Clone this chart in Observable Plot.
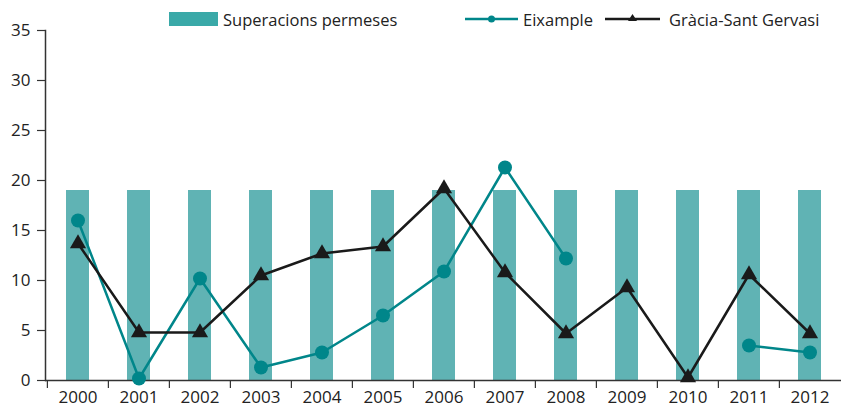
<!DOCTYPE html>
<html><head><meta charset="utf-8">
<script src="https://cdn.jsdelivr.net/npm/d3@7"></script>
<script src="https://cdn.jsdelivr.net/npm/@observablehq/plot@0.6"></script>
<style>
body{margin:0;background:#fff;}
#wrap{position:relative;width:845px;height:408px;font-family:"Open Sans",sans-serif;color:#333;overflow:hidden;}
#chart{position:absolute;left:0;top:0;}
.lg{position:absolute;top:8px;height:22px;display:flex;align-items:center;font-size:16.5px;color:#222;white-space:nowrap;}
.lg svg{display:block;margin-right:4px;}
</style></head><body>
<div id="wrap"><div id="chart"></div>
<div class="lg" style="left:169px"><svg width="50" height="16"><rect x="0" y="1" width="49" height="14" fill="#3aa9a8"/></svg><span>Superacions permeses</span></div>
<div class="lg" style="left:465px"><svg width="54" height="16"><line x1="0" x2="53" y1="8" y2="8" stroke="#00868a" stroke-width="2.5"/><circle cx="26.5" cy="8" r="3.5" fill="#00868a"/></svg><span>Eixample</span></div>
<div class="lg" style="left:605px"><svg width="60" height="16"><line x1="0" x2="55" y1="8" y2="8" stroke="#1a1a1a" stroke-width="2.5"/><path d="M27.5,3 L32,10 L23,10 Z" fill="#1a1a1a"/></svg><span>Gràcia-Sant Gervasi</span></div>
</div>
<script>
const years = ["2000","2001","2002","2003","2004","2005","2006","2007","2008","2009","2010","2011","2012"];
const permeses = [19,19,19,19,19,19,19,19,19,19,19,19,19];
const eixample = [16,0.2,10.2,1.3,2.8,6.5,10.9,21.3,12.2,null,null,3.5,2.8];
const gracia = [13.7,4.8,4.8,10.5,12.7,13.4,19.2,10.8,4.7,9.3,0.3,10.6,4.7];
const yTicks = [0,5,10,15,20,25,30,35];

const W = 845, H = 408, mL = 45, mR = 4, mT = 30, mB = 28;
const bw = (W - mL - mR) / years.length;

const rows = years.map((y, i) => ({year: y, permeses: permeses[i], eixample: eixample[i], gracia: gracia[i]}));

const chart = Plot.plot({
  width: W, height: H,
  marginLeft: mL, marginRight: mR, marginTop: mT, marginBottom: mB,
  style: {fontFamily: "Open Sans, sans-serif", fontSize: "17px", color: "#333", background: "transparent"},
  x: {type: "band", domain: years, padding: 0, axis: null, label: null},
  y: {domain: [0, 35], axis: null, label: null},
  marks: [
    Plot.barY(rows, {x: "year", y: "permeses", fill: "#60b3b4", insetLeft: 19, insetRight: 19}),
    Plot.ruleY([0], {stroke: "#333", strokeWidth: 1.5}),
    Plot.frame({anchor: "left", stroke: "#333", strokeWidth: 1.5}),
    Plot.axisX({tickSize: 8, text: null, label: null, dx: -bw / 2, stroke: "#333", strokeWidth: 1.2}),
    Plot.axisX({tickSize: 0, tickPadding: 10, label: null, fill: "#222"}),
    Plot.axisY({ticks: yTicks, tickSize: 8, tickPadding: 7, label: null, stroke: "#333", strokeWidth: 1.2, fill: "#222"}),
    Plot.line(rows, {x: "year", y: "eixample", stroke: "#00868a", strokeWidth: 2.5}),
    Plot.dot(rows.filter(d => d.eixample != null), {x: "year", y: "eixample", r: 7, fill: "#00868a"}),
    Plot.line(rows, {x: "year", y: "gracia", stroke: "#1a1a1a", strokeWidth: 2.5}),
    Plot.dot(rows, {x: "year", y: "gracia", symbol: "triangle", r: 6, fill: "#1a1a1a"})
  ]
});
document.getElementById("chart").appendChild(chart);
</script>
</body></html>
